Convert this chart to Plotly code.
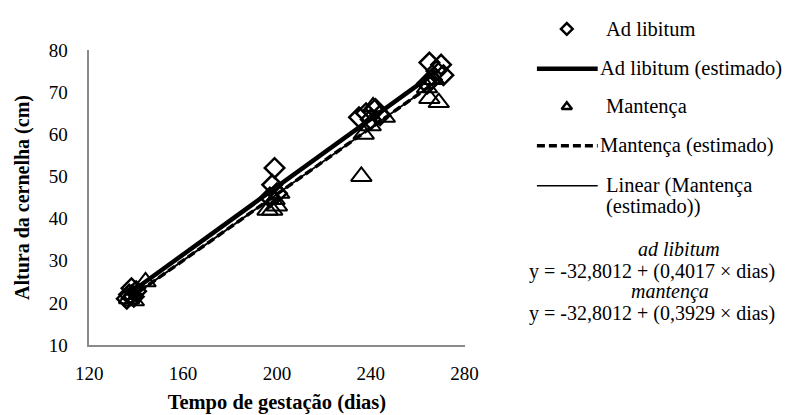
import plotly.graph_objects as go

# Observed withers height (cm) by gestation day
adlib_dias = [136, 137, 138, 139, 140, 197, 198, 199, 200, 235, 238, 240, 242, 244, 264, 265, 266, 268, 270, 271]
adlib_altura = [21.0, 22.0, 23.5, 21.5, 22.8, 45.0, 48.0, 52.0, 46.0, 64.0, 65.0, 63.5, 66.0, 64.5, 72.0, 77.0, 73.0, 75.0, 76.5, 74.0]

mant_dias = [137, 138, 139, 144, 196, 198, 199, 200, 201, 236, 237, 240, 241, 246, 264, 265, 267, 269]
mant_altura = [21.0, 22.0, 20.5, 25.0, 42.0, 42.0, 44.5, 43.0, 46.0, 50.0, 60.0, 62.0, 66.5, 64.0, 71.0, 68.5, 73.0, 67.5]

# Fitted models: altura = intercepto + inclinacao * dias
intercepto = -32.8012
incl_adlib = 0.4017
incl_mant = 0.3929
dias_est = [137, 268]

est_adlib = [intercepto + incl_adlib * d for d in dias_est]
est_mant = [intercepto + incl_mant * d for d in dias_est]

x_ticks = [120, 160, 200, 240, 280]
y_ticks = [10, 20, 30, 40, 50, 60, 70, 80]

W, H = 795, 415
# plot area in pixels
PX0, PX1, PY0, PY1 = 78, 467, 42, 353

FONT = "Liberation Serif"
fig = go.Figure()

fig.add_trace(go.Scatter(
    x=dias_est, y=est_adlib, mode="lines", name="Ad libitum (estimado)",
    line=dict(color="black", width=4.5)))
fig.add_trace(go.Scatter(
    x=dias_est, y=est_mant, mode="lines", name="Mantença (estimado)",
    line=dict(color="black", width=3.5, dash="8px,4px")))
fig.add_trace(go.Scatter(
    x=dias_est, y=est_mant, mode="lines", name="Linear (Mantença (estimado))",
    line=dict(color="black", width=2)))
fig.add_trace(go.Scatter(
    x=adlib_dias, y=adlib_altura, mode="markers", name="Ad libitum",
    marker=dict(symbol="diamond-open", size=15, color="black", line=dict(width=2.5))))
fig.add_trace(go.Scatter(
    x=mant_dias, y=mant_altura, mode="markers", name="Mantença",
    marker=dict(symbol="triangle-up-open", size=18, color="black", line=dict(width=2))))

# Legend drawn in a pixel-space overlay axis
fig.add_trace(go.Scatter(
    x=[573], y=[20], mode="markers", xaxis="x2", yaxis="y2", showlegend=False,
    marker=dict(symbol="diamond-open", size=9, color="black", line=dict(width=2.5)),
    hoverinfo="skip"))
fig.add_trace(go.Scatter(
    x=[573], y=[102], mode="markers", xaxis="x2", yaxis="y2", showlegend=False,
    marker=dict(symbol="triangle-up-open", size=9, color="black", line=dict(width=2.5)),
    hoverinfo="skip"))

shapes = [
    dict(type="line", xref="x2", yref="y2", x0=542, x1=605, y0=62, y1=62,
         line=dict(color="black", width=4.5)),
    dict(type="line", xref="x2", yref="y2", x0=542, x1=605, y0=143, y1=143,
         line=dict(color="black", width=3.5, dash="8px,4px")),
    dict(type="line", xref="x2", yref="y2", x0=542, x1=605, y0=185, y1=185,
         line=dict(color="black", width=1.5)),
]

def txt(x, y, s, size=20.5, anchor="left", italic=False):
    if italic:
        s = "<i>" + s + "</i>"
    return dict(x=x, y=y, xref="x2", yref="y2", text=s, showarrow=False,
                xanchor=anchor, yanchor="middle",
                font=dict(family=FONT, size=size, color="black"))

annotations = [
    txt(612, 20, "Ad libitum"),
    txt(605, 62, "Ad libitum (estimado)"),
    txt(612, 102, "Mantença"),
    txt(605, 143, "Mantença (estimado)"),
    txt(612, 185, "Linear (Mantença"),
    txt(612, 207, "(estimado))"),
    txt(689, 252, "ad libitum", size=20, anchor="center", italic=True),
    txt(661, 275, "y = -32,8012 + (0,4017 × dias)", size=20, anchor="center"),
    txt(680, 297, "mantença", size=20, anchor="center", italic=True),
    txt(661, 320, "y = -32,8012 + (0,3929 × dias)", size=20, anchor="center"),
]

axis_common = dict(showgrid=False, zeroline=False, showline=True,
                   linecolor="#8a8a8a", linewidth=1.5, ticks="",
                   tickfont=dict(family=FONT, size=19, color="black"))

fig.update_layout(
    width=W, height=H,
    margin=dict(l=0, r=0, t=0, b=0),
    paper_bgcolor="white", plot_bgcolor="rgba(0,0,0,0)",
    showlegend=False,
    xaxis=dict(**axis_common, domain=[PX0 / W, PX1 / W], range=[120, 280],
               tickvals=x_ticks, ticklabelstandoff=10, anchor="y",
               title=dict(text="<b>Tempo de gestação (dias)</b>",
                          font=dict(family=FONT, size=20.5, color="black"), standoff=12)),
    yaxis=dict(**axis_common, domain=[1 - PY1 / H, 1 - PY0 / H], range=[10, 80],
               tickvals=y_ticks, ticklabelstandoff=16, anchor="x",
               title=dict(text="<b>Altura da cernelha (cm)</b>",
                          font=dict(family=FONT, size=20, color="black"), standoff=14)),
    xaxis2=dict(domain=[0, 1], range=[0, W], visible=False, anchor="y2"),
    yaxis2=dict(domain=[0, 1], range=[H, 0], visible=False, anchor="x2"),
    shapes=shapes,
    annotations=annotations,
)

fig.write_html("out.html")
